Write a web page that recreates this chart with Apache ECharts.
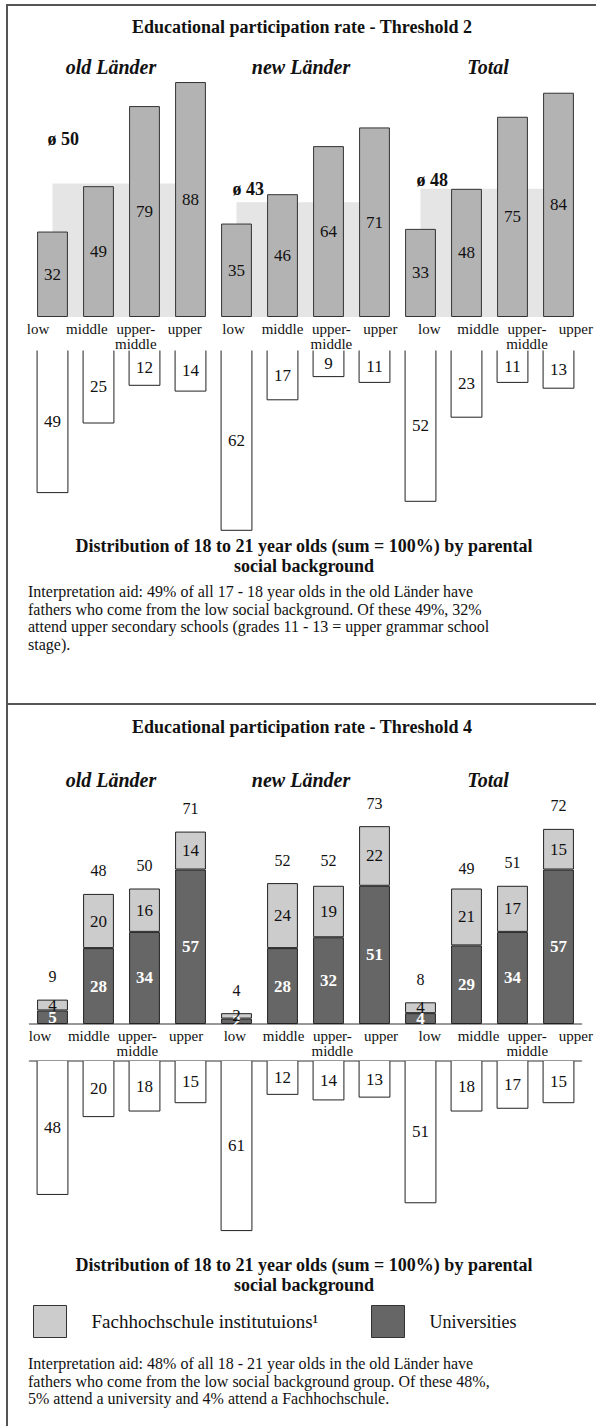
<!DOCTYPE html>
<html>
<head>
<meta charset="utf-8">
<script src="https://cdn.jsdelivr.net/npm/echarts@6/dist/echarts.min.js"></script>
<style>
  body { margin: 0; background: #fff; }
  #main { width: 596px; height: 1426px; }
</style>
</head>
<body>
<div id="main"></div>
<script>
// groups and social background categories
var groups = ['old Länder', 'new Länder', 'Total'];
var categories = ['low', 'middle', 'upper-\nmiddle', 'upper'];

// threshold 2: participation rate, average per group, share of age cohort
var rateT2 = [32, 49, 79, 88, 35, 46, 64, 71, 33, 48, 75, 84];
var avgT2 = [50, 43, 48];
var shareT2 = [49, 25, 12, 14, 62, 17, 9, 11, 52, 23, 11, 13];

// threshold 4: universities, Fachhochschulen, total, share of age cohort
var uniT4 = [5, 28, 34, 57, 2, 28, 32, 51, 4, 29, 34, 57];
var fhT4 = [4, 20, 16, 14, 2, 24, 19, 22, 4, 21, 17, 15];
var totalT4 = [9, 48, 50, 71, 4, 52, 52, 73, 8, 49, 51, 72];
var shareT4 = [48, 20, 18, 15, 61, 12, 14, 13, 51, 18, 17, 15];

var fhName = 'Fachhochschule institutuions\u00b9';
var uniName = 'Universities';

var serif = 'Liberation Serif, Times New Roman, serif';

// one unique key per bar: group|category
var barKeys = [];
groups.forEach(function (g) {
    categories.forEach(function (c) { barKeys.push(g + '|' + c); });
});

var chart = echarts.init(document.getElementById('main'), null, { renderer: 'svg' });

function txtStyle(str, size, weight, style, align, vAlign) {
    return {
        text: str, fill: '#111', fontFamily: serif, fontSize: size,
        fontWeight: weight || 'normal', fontStyle: style || 'normal',
        align: align || 'center', verticalAlign: vAlign || 'middle'
    };
}

// white boxes hanging below the axis (open at the top)
function lowerBar(params, api) {
    var base = api.coord([api.value(0), 0]);
    var end = api.coord([api.value(0), api.value(1)]);
    var w = api.size([1, 0])[0] * 0.67;
    var l = base[0] - w / 2, r = base[0] + w / 2;
    return {
        type: 'group',
        children: [
            { type: 'rect', shape: { x: l, y: base[1], width: w, height: end[1] - base[1] }, style: { fill: '#fff' } },
            { type: 'polyline', shape: { points: [[l, base[1]], [l, end[1]], [r, end[1]], [r, base[1]]] },
              style: { stroke: '#222', lineWidth: 1, fill: null } },
            { type: 'text', x: base[0], y: (base[1] + end[1]) / 2, style: txtStyle(String(api.value(1)), 17) }
        ]
    };
}

// light average block: from the centre of the first bar to the centre of the last bar of a group
var avgLabelOffset = [[-5, -54], [-4, -22], [-4, -18]];
function avgBlock(params, api) {
    var g = api.value(0);
    var a = api.coord([g * 4, 0]);
    var b = api.coord([g * 4 + 3, api.value(1)]);
    var off = avgLabelOffset[g];
    return {
        type: 'group',
        children: [
            { type: 'rect', shape: { x: a[0], y: b[1], width: b[0] - a[0], height: a[1] - b[1] }, style: { fill: '#e5e5e5' } },
            { type: 'text', x: a[0] + off[0], y: b[1] + off[1],
              style: txtStyle('ø ' + api.value(1), 18, 'bold', 'normal', 'left', 'top') }
        ]
    };
}

function hiddenX(gridIndex) {
    return { type: 'category', gridIndex: gridIndex, data: barKeys, show: false };
}
// category names sit on their own, slightly wider spaced axis (as in the original)
function labelX(gridIndex) {
    return {
        type: 'category', gridIndex: gridIndex, data: barKeys, boundaryGap: false,
        axisLine: { show: false }, axisTick: { show: false },
        axisLabel: {
            interval: 0, margin: 4, fontFamily: serif, fontSize: 15, lineHeight: 15, color: '#111',
            formatter: function (v) { return v.split('|')[1]; }
        }
    };
}
function lineX(gridIndex, position) {
    return {
        type: 'category', gridIndex: gridIndex, data: barKeys, position: position,
        axisLine: { show: true, lineStyle: { color: '#777', width: 1.5 } },
        axisTick: { show: false }, axisLabel: { show: false }
    };
}

function text(x, y, str, size, weight, style, align, vAlign, lineHeight) {
    var s = txtStyle(str, size, weight, style, align, vAlign);
    s.lineHeight = lineHeight || 20;
    return { type: 'text', x: x, y: y, style: s };
}

var groupX = [111, 301, 488];
var graphics = [
    // frame
    { type: 'rect', shape: { x: 6, y: 4, width: 2, height: 1422 }, style: { fill: '#555' } },
    { type: 'rect', shape: { x: 6, y: 4, width: 590, height: 2 }, style: { fill: '#555' } },
    { type: 'rect', shape: { x: 6, y: 703, width: 590, height: 2 }, style: { fill: '#555' } },
    text(302, 27, 'Educational participation rate - Threshold 2', 18, 'bold'),
    text(302, 727, 'Educational participation rate - Threshold 4', 18, 'bold'),
    text(304, 556, 'Distribution of 18 to 21 year olds (sum = 100%) by parental\nsocial background', 18, 'bold'),
    text(304, 1275, 'Distribution of 18 to 21 year olds (sum = 100%) by parental\nsocial background', 18, 'bold'),
    text(28, 583, 'Interpretation aid: 49% of all 17 - 18 year olds in the old Länder have\n' +
        'fathers who come from the low social background. Of these 49%, 32%\n' +
        'attend upper secondary schools (grades 11 - 13 = upper grammar school\n' +
        'stage).', 16, 'normal', 'normal', 'left', 'top', 17.5),
    text(28, 1355, 'Interpretation aid: 48% of all 18 - 21 year olds in the old Länder have\n' +
        'fathers who come from the low social background group. Of these 48%,\n' +
        '5% attend a university and 4% attend a Fachhochschule.', 16, 'normal', 'normal', 'left', 'top', 17.5)
];
groups.forEach(function (g, i) {
    graphics.push(text(groupX[i], 67, g, 20, 'bold', 'italic'));
    graphics.push(text(groupX[i], 780, g, 20, 'bold', 'italic'));
});

var legendBase = {
    top: 1305, padding: 0, itemWidth: 33, itemHeight: 32, icon: 'rect', selectedMode: false,
    itemStyle: { borderColor: '#333', borderWidth: 1 },
    textStyle: { fontFamily: serif, fontSize: 19, color: '#111', padding: [0, 0, 2, 20] }
};

var option = {
    animation: false,
    backgroundColor: '#fff',
    textStyle: { fontFamily: serif },
    graphic: graphics,
    legend: [
        Object.assign({}, legendBase, { left: 33, data: [fhName] }),
        Object.assign({}, legendBase, { left: 371, data: [uniName], textStyle: Object.assign({}, legendBase.textStyle, { fontSize: 18 }) })
    ],
    grid: [
        { left: 29.5, width: 552, top: 50, height: 267 },
        { left: 29.5, width: 552, top: 350.5, height: 203 },
        { left: 38, right: 18, top: 316, height: 1 },
        { left: 29.5, width: 552, top: 807.2, height: 216.8 },
        { left: 29.5, width: 552, top: 1061, height: 194.6 },
        { left: 40, right: 16, top: 1023, height: 1 }
    ],
    xAxis: [
        hiddenX(0), hiddenX(1), labelX(2),
        lineX(3, 'bottom'), lineX(4, 'top'), labelX(5)
    ],
    yAxis: [
        { type: 'value', gridIndex: 0, min: 0, max: 100, show: false },
        { type: 'value', gridIndex: 1, min: 0, max: 70, inverse: true, show: false },
        { type: 'value', gridIndex: 2, show: false },
        { type: 'value', gridIndex: 3, min: 0, max: 80, show: false },
        { type: 'value', gridIndex: 4, min: 0, max: 70, inverse: true, show: false },
        { type: 'value', gridIndex: 5, show: false }
    ],
    series: [
        {
            name: 'average T2', type: 'custom', xAxisIndex: 0, yAxisIndex: 0, z: 1, silent: true,
            renderItem: avgBlock,
            encode: { x: 0, y: 1 },
            data: avgT2.map(function (v, g) { return [g, v]; })
        },
        {
            name: 'rate T2', type: 'bar', xAxisIndex: 0, yAxisIndex: 0, barWidth: '67%', z: 3,
            data: rateT2,
            itemStyle: { color: '#b3b3b3', borderColor: '#333', borderWidth: 1 },
            label: { show: true, position: 'inside', fontFamily: serif, fontSize: 17, color: '#111' }
        },
        {
            name: 'share T2', type: 'custom', xAxisIndex: 1, yAxisIndex: 1,
            renderItem: lowerBar,
            data: shareT2.map(function (v, i) { return [barKeys[i], v]; })
        },
        {
            name: uniName, type: 'bar', xAxisIndex: 3, yAxisIndex: 3, stack: 't4', barWidth: '67%', z: 3,
            data: uniT4,
            itemStyle: { color: '#666666', borderColor: '#222', borderWidth: 1 },
            label: { show: true, position: 'inside', fontFamily: serif, fontSize: 17, fontWeight: 'bold', color: '#fff' }
        },
        {
            name: fhName, type: 'bar', xAxisIndex: 3, yAxisIndex: 3, stack: 't4', barWidth: '67%', z: 3,
            data: fhT4,
            itemStyle: { color: '#cccccc', borderColor: '#222', borderWidth: 1 },
            label: { show: true, position: 'inside', fontFamily: serif, fontSize: 17, color: '#111' }
        },
        {
            name: 'total T4', type: 'bar', xAxisIndex: 3, yAxisIndex: 3, barWidth: '67%', barGap: '-100%', z: 1,
            data: totalT4,
            itemStyle: { color: 'rgba(0,0,0,0)' },
            label: { show: true, position: 'top', distance: 15, fontFamily: serif, fontSize: 16, color: '#111' }
        },
        {
            name: 'share T4', type: 'custom', xAxisIndex: 4, yAxisIndex: 4,
            renderItem: lowerBar,
            data: shareT4.map(function (v, i) { return [barKeys[i], v]; })
        }
    ]
};

chart.setOption(option);
</script>
</body>
</html>
